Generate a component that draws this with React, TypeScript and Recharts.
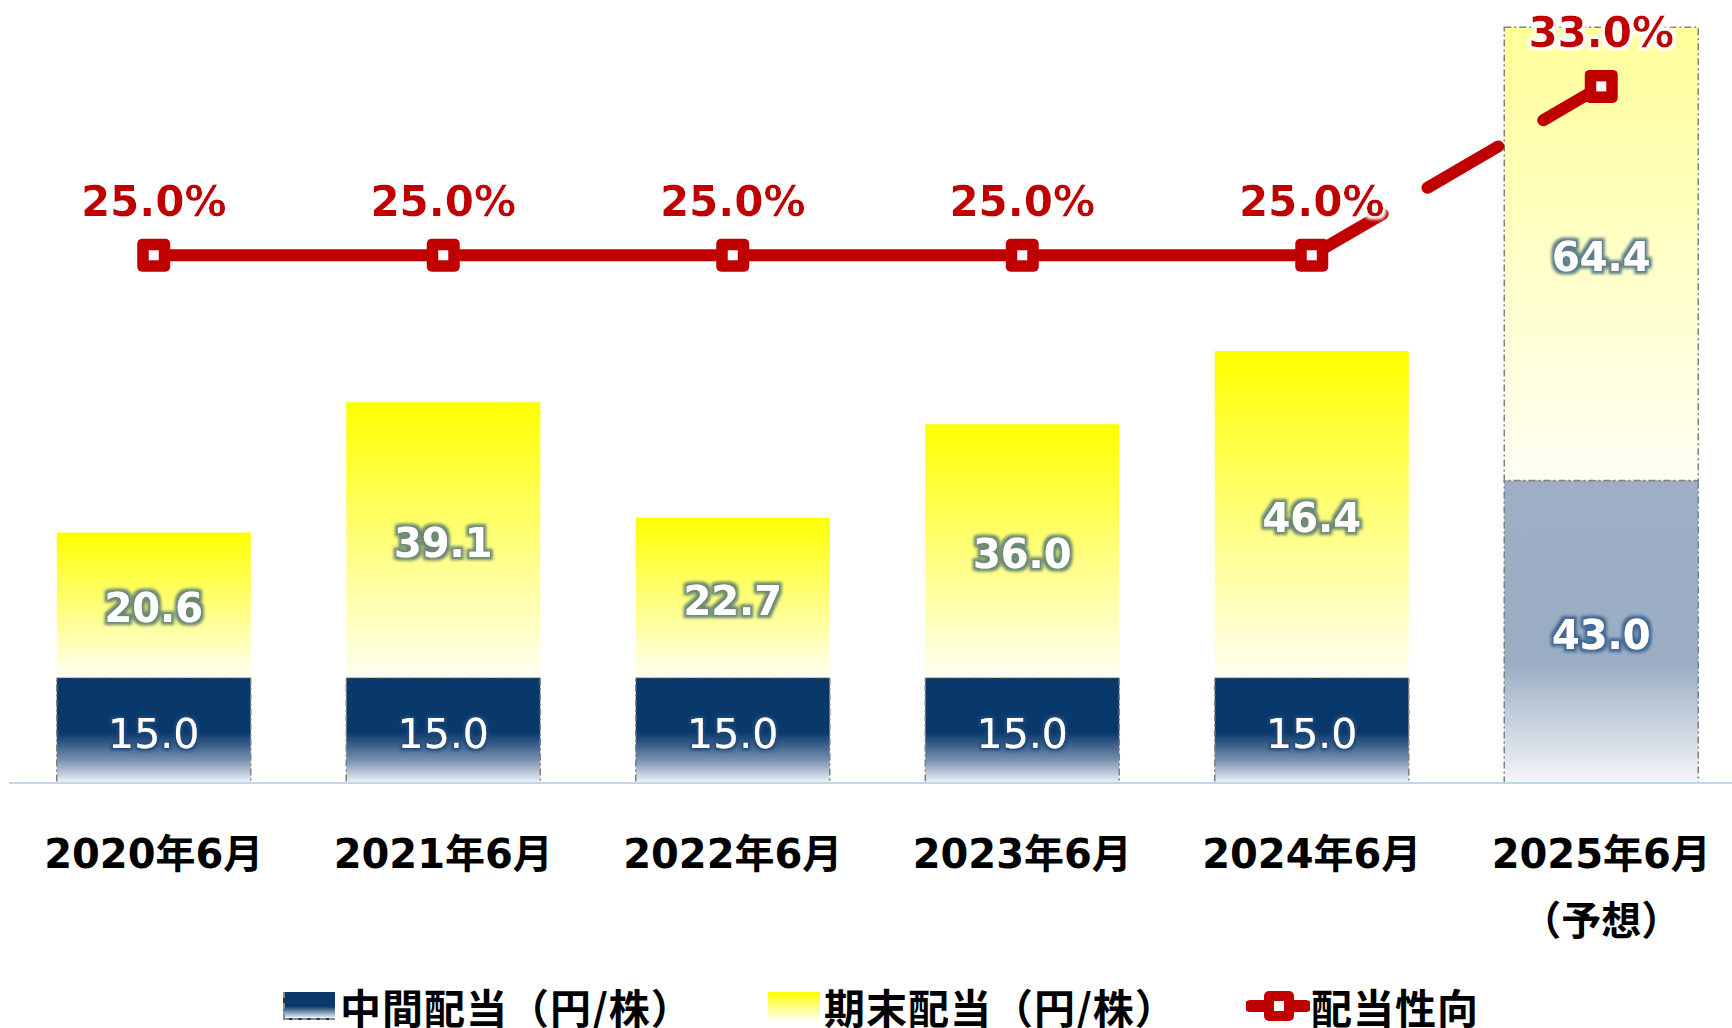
import React from 'react';
import { ComposedChart, Bar, Line, XAxis, YAxis, Cell, LabelList, Legend } from 'recharts';

// ---- data ----
const categories = ['2020年6月', '2021年6月', '2022年6月', '2023年6月', '2024年6月', '2025年6月'];
const categorySubLabels = ['', '', '', '', '', '（予想）'];
const interimDividend = [15.0, 15.0, 15.0, 15.0, 15.0, 43.0];
const yearEndDividend = [20.6, 39.1, 22.7, 36.0, 46.4, 64.4];
const payoutRatio = [25.0, 25.0, 25.0, 25.0, 25.0, 33.0];
const isForecast = [false, false, false, false, false, true];
const seriesNames = { interim: '中間配当（円/株）', yearEnd: '期末配当（円/株）', payout: '配当性向' };

const data = categories.map((c, i) => ({
  category: c,
  interim: interimDividend[i],
  yearEnd: yearEndDividend[i],
  payoutActual: isForecast[i] ? null : payoutRatio[i],
  payoutForecast: isForecast[i] || isForecast[i + 1] ? payoutRatio[i] : null,
}));

const NUM_FONT = "'DejaVu Sans', 'Noto Sans CJK JP', sans-serif";
const CJK_FONT = "'Noto Sans CJK JP', 'DejaVu Sans', sans-serif";
const RED = '#C00000';

function box(props: any) {
  const vb = props.viewBox || {};
  return {
    x: vb.x ?? props.x,
    y: vb.y ?? props.y,
    width: vb.width ?? props.width ?? 0,
    height: vb.height ?? props.height ?? 0,
  };
}

const makeBarLabel = (kind: 'interim' | 'yearEnd') => (props: any) => {
  const { x, y, width, height } = box(props);
  const v = props.value;
  const idx = props.index;
  if (v == null || x == null) return null;
  const fc = isForecast[idx];
  let filter = 'url(#glowGreen)';
  let weight = 700;
  let size = 40;
  if (kind === 'interim') {
    filter = fc ? 'url(#glowBlue)' : 'url(#glowNavy)';
    weight = fc ? 700 : 400;
    size = fc ? 40 : 41;
  } else if (fc) {
    filter = 'url(#glowTeal)';
  }
  return (
    <text
      x={x + width / 2}
      y={y + height / 2 + 3}
      dy="0.36em"
      textAnchor="middle"
      fill="#FFFFFF"
      fontFamily={NUM_FONT}
      fontWeight={weight}
      fontSize={size}
      filter={filter}
    >
      {Number(v).toFixed(1)}
    </text>
  );
};

const makeLineLabel = (forecastOnly: boolean) => (props: any) => {
  const { x, y } = box(props);
  const v = props.value;
  const idx = props.index;
  if (v == null || x == null || y == null) return null;
  if (forecastOnly && !isForecast[idx]) return null;
  return (
    <text
      x={x}
      y={y - 39}
      textAnchor="middle"
      fill={RED}
      fontFamily={NUM_FONT}
      fontWeight={700}
      fontSize={42}
      filter="url(#glowWhite)"
    >
      {`${Number(v).toFixed(1)}%`}
    </text>
  );
};

const makeDot = (forecastOnly: boolean) => (props: any) => {
  const { cx, cy, index, key } = props;
  if (cx == null || cy == null || props.value == null || (forecastOnly && !isForecast[index])) {
    return <g key={key} />;
  }
  return (
    <g key={key}>
      <rect x={cx - 16.5} y={cy - 16.5} width={33} height={33} rx={5} fill={RED} />
      <rect x={cx - 5} y={cy - 5} width={10} height={10} fill="#FFFFFF" />
    </g>
  );
};

const XTick = (props: any) => {
  const { x, y, payload, index } = props;
  const i = payload?.index ?? index;
  const sub = categorySubLabels[i];
  return (
    <g>
      <text x={x} y={y + 85} textAnchor="middle" fill="#000" fontFamily={NUM_FONT} fontWeight={700} fontSize={40}>
        {payload.value}
      </text>
      {sub ? (
        <text x={x} y={y + 152} textAnchor="middle" fill="#000" fontFamily={CJK_FONT} fontWeight={700} fontSize={40}>
          {sub}
        </text>
      ) : null}
    </g>
  );
};

const legendText: React.CSSProperties = {
  position: 'absolute',
  top: 0,
  height: 40,
  lineHeight: '40px',
  fontFamily: CJK_FONT,
  fontWeight: 700,
  fontSize: 41,
  letterSpacing: 1,
  color: '#000',
  whiteSpace: 'nowrap',
};

const LegendContent = () => (
  <div style={{ position: 'relative', width: 1732, height: 40 }}>
    <div
      style={{
        position: 'absolute',
        left: 283,
        top: 6,
        width: 52,
        height: 28,
        background: 'linear-gradient(#09386B 0%, #09386B 55%, #F0F4F8 100%)',
        borderLeft: '2px dashed #8A8A8A',
        borderBottom: '2px dashed #8A8A8A',
        boxSizing: 'border-box',
      }}
    />
    <div style={{ ...legendText, left: 340 }}>{seriesNames.interim}</div>
    <div
      style={{
        position: 'absolute',
        left: 768,
        top: 6,
        width: 52,
        height: 28,
        background: 'linear-gradient(#FFFF00 0%, #FFFFF2 100%)',
      }}
    />
    <div style={{ ...legendText, left: 824 }}>{seriesNames.yearEnd}</div>
    <svg style={{ position: 'absolute', left: 1246, top: 0 }} width={64} height={40}>
      <line x1={4} y1={20} x2={60} y2={20} stroke={RED} strokeWidth={12} strokeLinecap="round" />
      <rect x={18} y={5} width={30} height={30} rx={5} fill={RED} />
      <rect x={28} y={15} width={10} height={10} fill="#FFFFFF" />
    </svg>
    <div style={{ ...legendText, left: 1311 }}>{seriesNames.payout}</div>
  </div>
);

const glow = (id: string, color: string, radius: number, blur: number) => (
  <filter id={id} x="-30%" y="-40%" width="160%" height="180%">
    <feMorphology in="SourceAlpha" operator="dilate" radius={radius} result="d" />
    <feGaussianBlur in="d" stdDeviation={blur} result="b" />
    <feFlood floodColor={color} result="c" />
    <feComposite in="c" in2="b" operator="in" result="g" />
    <feMerge>
      <feMergeNode in="g" />
      <feMergeNode in="SourceGraphic" />
    </feMerge>
  </filter>
);

const Defs = () => (
  <svg width={0} height={0} style={{ position: 'absolute', left: 0, top: 0 }}>
    <defs>
      <linearGradient id="navyGrad" x1="0" y1="0" x2="0" y2="1">
        <stop offset="0" stopColor="#09386B" />
        <stop offset="0.52" stopColor="#09386B" />
        <stop offset="0.78" stopColor="#7890B0" />
        <stop offset="1" stopColor="#F2F5F9" />
      </linearGradient>
      <linearGradient id="yellowGrad" x1="0" y1="0" x2="0" y2="1">
        <stop offset="0" stopColor="#FFFF00" />
        <stop offset="1" stopColor="#FFFFF2" />
      </linearGradient>
      <linearGradient id="fcNavyGrad" x1="0" y1="0" x2="0" y2="1">
        <stop offset="0" stopColor="#9EAFC5" />
        <stop offset="0.6" stopColor="#9AADC3" />
        <stop offset="1" stopColor="#F3F6F9" />
      </linearGradient>
      <linearGradient id="fcYellowGrad" x1="0" y1="0" x2="0" y2="1">
        <stop offset="0" stopColor="#FFFF99" />
        <stop offset="1" stopColor="#FFFFF4" />
      </linearGradient>
      {glow('glowGreen', '#6B8872', 2.5, 1.6)}
      {glow('glowNavy', '#1E4A7A', 2, 1.6)}
      {glow('glowBlue', '#3F6894', 2.5, 1.6)}
      {glow('glowTeal', '#5E7E88', 2.5, 1.6)}
      {glow('glowWhite', '#FFFFFF', 3, 1.5)}
    </defs>
  </svg>
);

const BORDER = '#808080';
const BORDER_DASH = '7 3 2 3';

export default function App() {
  return (
    <div
      style={{
        position: 'absolute',
        left: 0,
        top: 0,
        width: 1732,
        height: 1028,
        overflow: 'hidden',
        background: '#FFFFFF',
        fontFamily: CJK_FONT,
      }}
    >
      <Defs />
      <ComposedChart
        width={1746}
        height={1028}
        data={data}
        margin={{ top: 9, right: 0, bottom: 2, left: 9 }}
        barCategoryGap="16.5%"
      >
        <XAxis
          dataKey="category"
          axisLine={{ stroke: '#BDD7EE', strokeWidth: 2 }}
          tickLine={false}
          tickSize={0}
          tickMargin={0}
          interval={0}
          height={203}
          tick={<XTick />}
        />
        <YAxis yAxisId="left" hide domain={[0, 110]} />
        <YAxis yAxisId="right" orientation="right" hide domain={[0, 110 / 3]} />
        <Legend
          verticalAlign="bottom"
          content={<LegendContent />}
          wrapperStyle={{ left: 0, bottom: 2, width: 1732, height: 40 }}
        />
        <Bar dataKey="interim" name={seriesNames.interim} stackId="div" yAxisId="left" isAnimationActive={false}>
          {data.map((_, i) => (
            <Cell
              key={`i-${i}`}
              fill={isForecast[i] ? 'url(#fcNavyGrad)' : 'url(#navyGrad)'}
              stroke={BORDER}
              strokeWidth={1.5}
              strokeDasharray={BORDER_DASH}
            />
          ))}
          <LabelList dataKey="interim" content={makeBarLabel('interim')} />
        </Bar>
        <Bar dataKey="yearEnd" name={seriesNames.yearEnd} stackId="div" yAxisId="left" isAnimationActive={false}>
          {data.map((_, i) => (
            <Cell
              key={`y-${i}`}
              fill={isForecast[i] ? 'url(#fcYellowGrad)' : 'url(#yellowGrad)'}
              stroke={isForecast[i] ? BORDER : 'none'}
              strokeWidth={isForecast[i] ? 1.5 : 0}
              strokeDasharray={isForecast[i] ? BORDER_DASH : undefined}
            />
          ))}
          <LabelList dataKey="yearEnd" content={makeBarLabel('yearEnd')} />
        </Bar>
        <Line
          dataKey="payoutForecast"
          name={seriesNames.payout}
          yAxisId="right"
          stroke={RED}
          strokeWidth={12}
          strokeDasharray="82 52"
          strokeLinecap="round"
          dot={makeDot(true)}
          activeDot={false}
          legendType="none"
          isAnimationActive={false}
        >
          <LabelList dataKey="payoutForecast" content={makeLineLabel(true)} />
        </Line>
        <Line
          dataKey="payoutActual"
          name={seriesNames.payout}
          yAxisId="right"
          stroke={RED}
          strokeWidth={12}
          strokeLinejoin="round"
          dot={makeDot(false)}
          activeDot={false}
          isAnimationActive={false}
        >
          <LabelList dataKey="payoutActual" content={makeLineLabel(false)} />
        </Line>
      </ComposedChart>
    </div>
  );
}
